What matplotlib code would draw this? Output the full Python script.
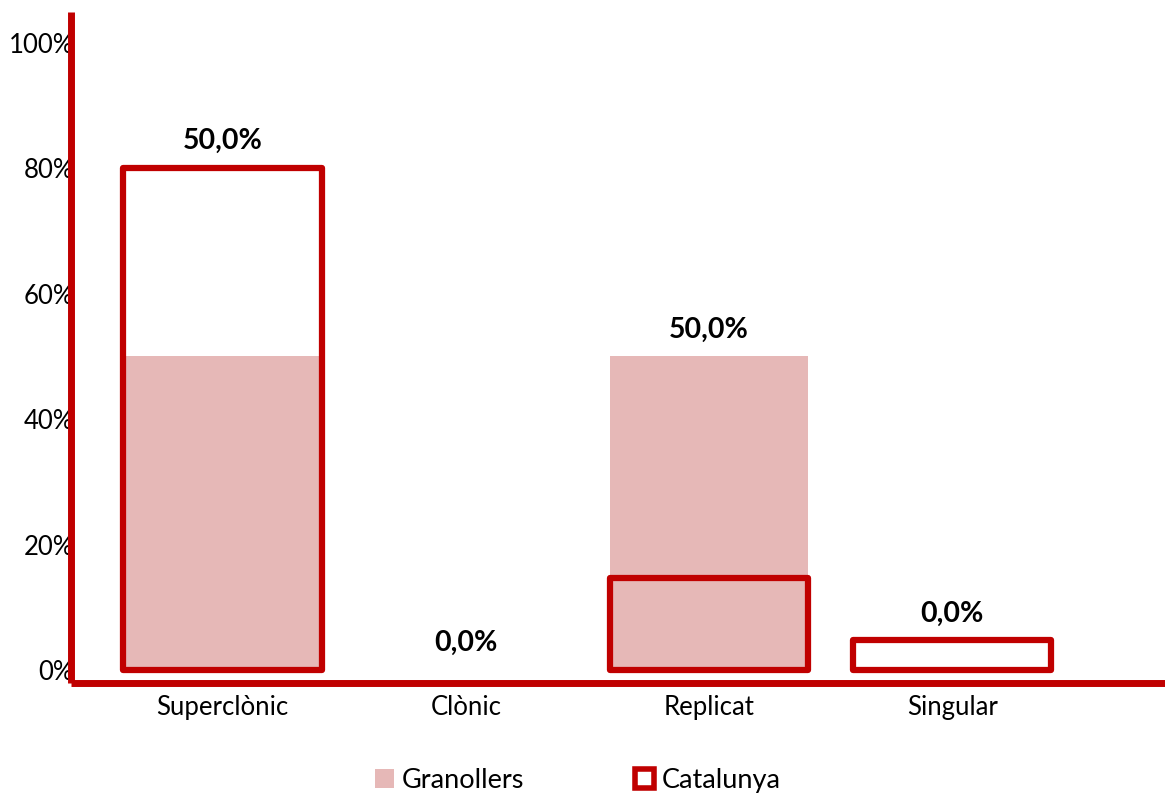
import matplotlib.pyplot as plt
from matplotlib.patches import Patch

categories = ["Superclònic", "Clònic", "Replicat", "Singular"]
granollers = [50.0, 0.0, 50.0, 0.0]
catalunya = [80.0, 0.0, 14.7, 4.7]
label_texts = ["50,0%", "0,0%", "50,0%", "0,0%"]
yticks = [0, 20, 40, 60, 80, 100]

RED = "#C00000"
PINK = "#E6B8B7"

plt.rcParams.update({
    "font.family": ["Lato", "DejaVu Sans"],
    "font.size": 18,
})

fig = plt.figure(figsize=(11.65, 7.96), dpi=100)
ax = fig.add_axes([0.061, 0.142, 0.939, 0.843])

x = list(range(len(categories)))
width = 0.815
ax.bar(x, granollers, width, color=PINK, linewidth=0, zorder=2)

# zero-height outlines would show up as a flat red line, leave them out
cat_x = [xi for xi, c in zip(x, catalunya) if c > 0]
cat_v = [c for c in catalunya if c > 0]
ax.bar(cat_x, cat_v, width, facecolor="none", edgecolor=RED,
       linewidth=4.5, joinstyle="round", zorder=3)

for xi, g, c, t in zip(x, granollers, catalunya, label_texts):
    ax.annotate(t, (xi, max(g, c)), xytext=(0, 10), textcoords="offset points",
                ha="center", va="bottom", fontweight="bold", fontsize=20.5)

ax.set_xlim(-0.623, 3.875)
ax.set_ylim(-2.07, 104.9)
ax.set_xticks(x)
ax.set_xticklabels(categories, fontsize=18.5)
ax.set_yticks(yticks)
ax.set_yticklabels([f"{v}%" for v in yticks], fontsize=18.5)
ax.tick_params(axis="both", length=0)
ax.tick_params(axis="y", pad=-2)
ax.tick_params(axis="x", pad=9)

for side in ("top", "right"):
    ax.spines[side].set_visible(False)
for side in ("left", "bottom"):
    ax.spines[side].set_color(RED)
    ax.spines[side].set_linewidth(5)
    ax.spines[side].set_capstyle("butt")

handles = [
    Patch(facecolor=PINK, edgecolor="none"),
    Patch(facecolor="white", edgecolor=RED, linewidth=4),
]
fig.legend(handles, ["Granollers", "Catalunya"], loc="center",
           bbox_to_anchor=(0.496, 0.019), ncol=2, frameon=False,
           fontsize=19.5, handlelength=0.7, handleheight=0.7,
           handletextpad=0.3, columnspacing=4.1)

fig.savefig("out.png", dpi=100)
